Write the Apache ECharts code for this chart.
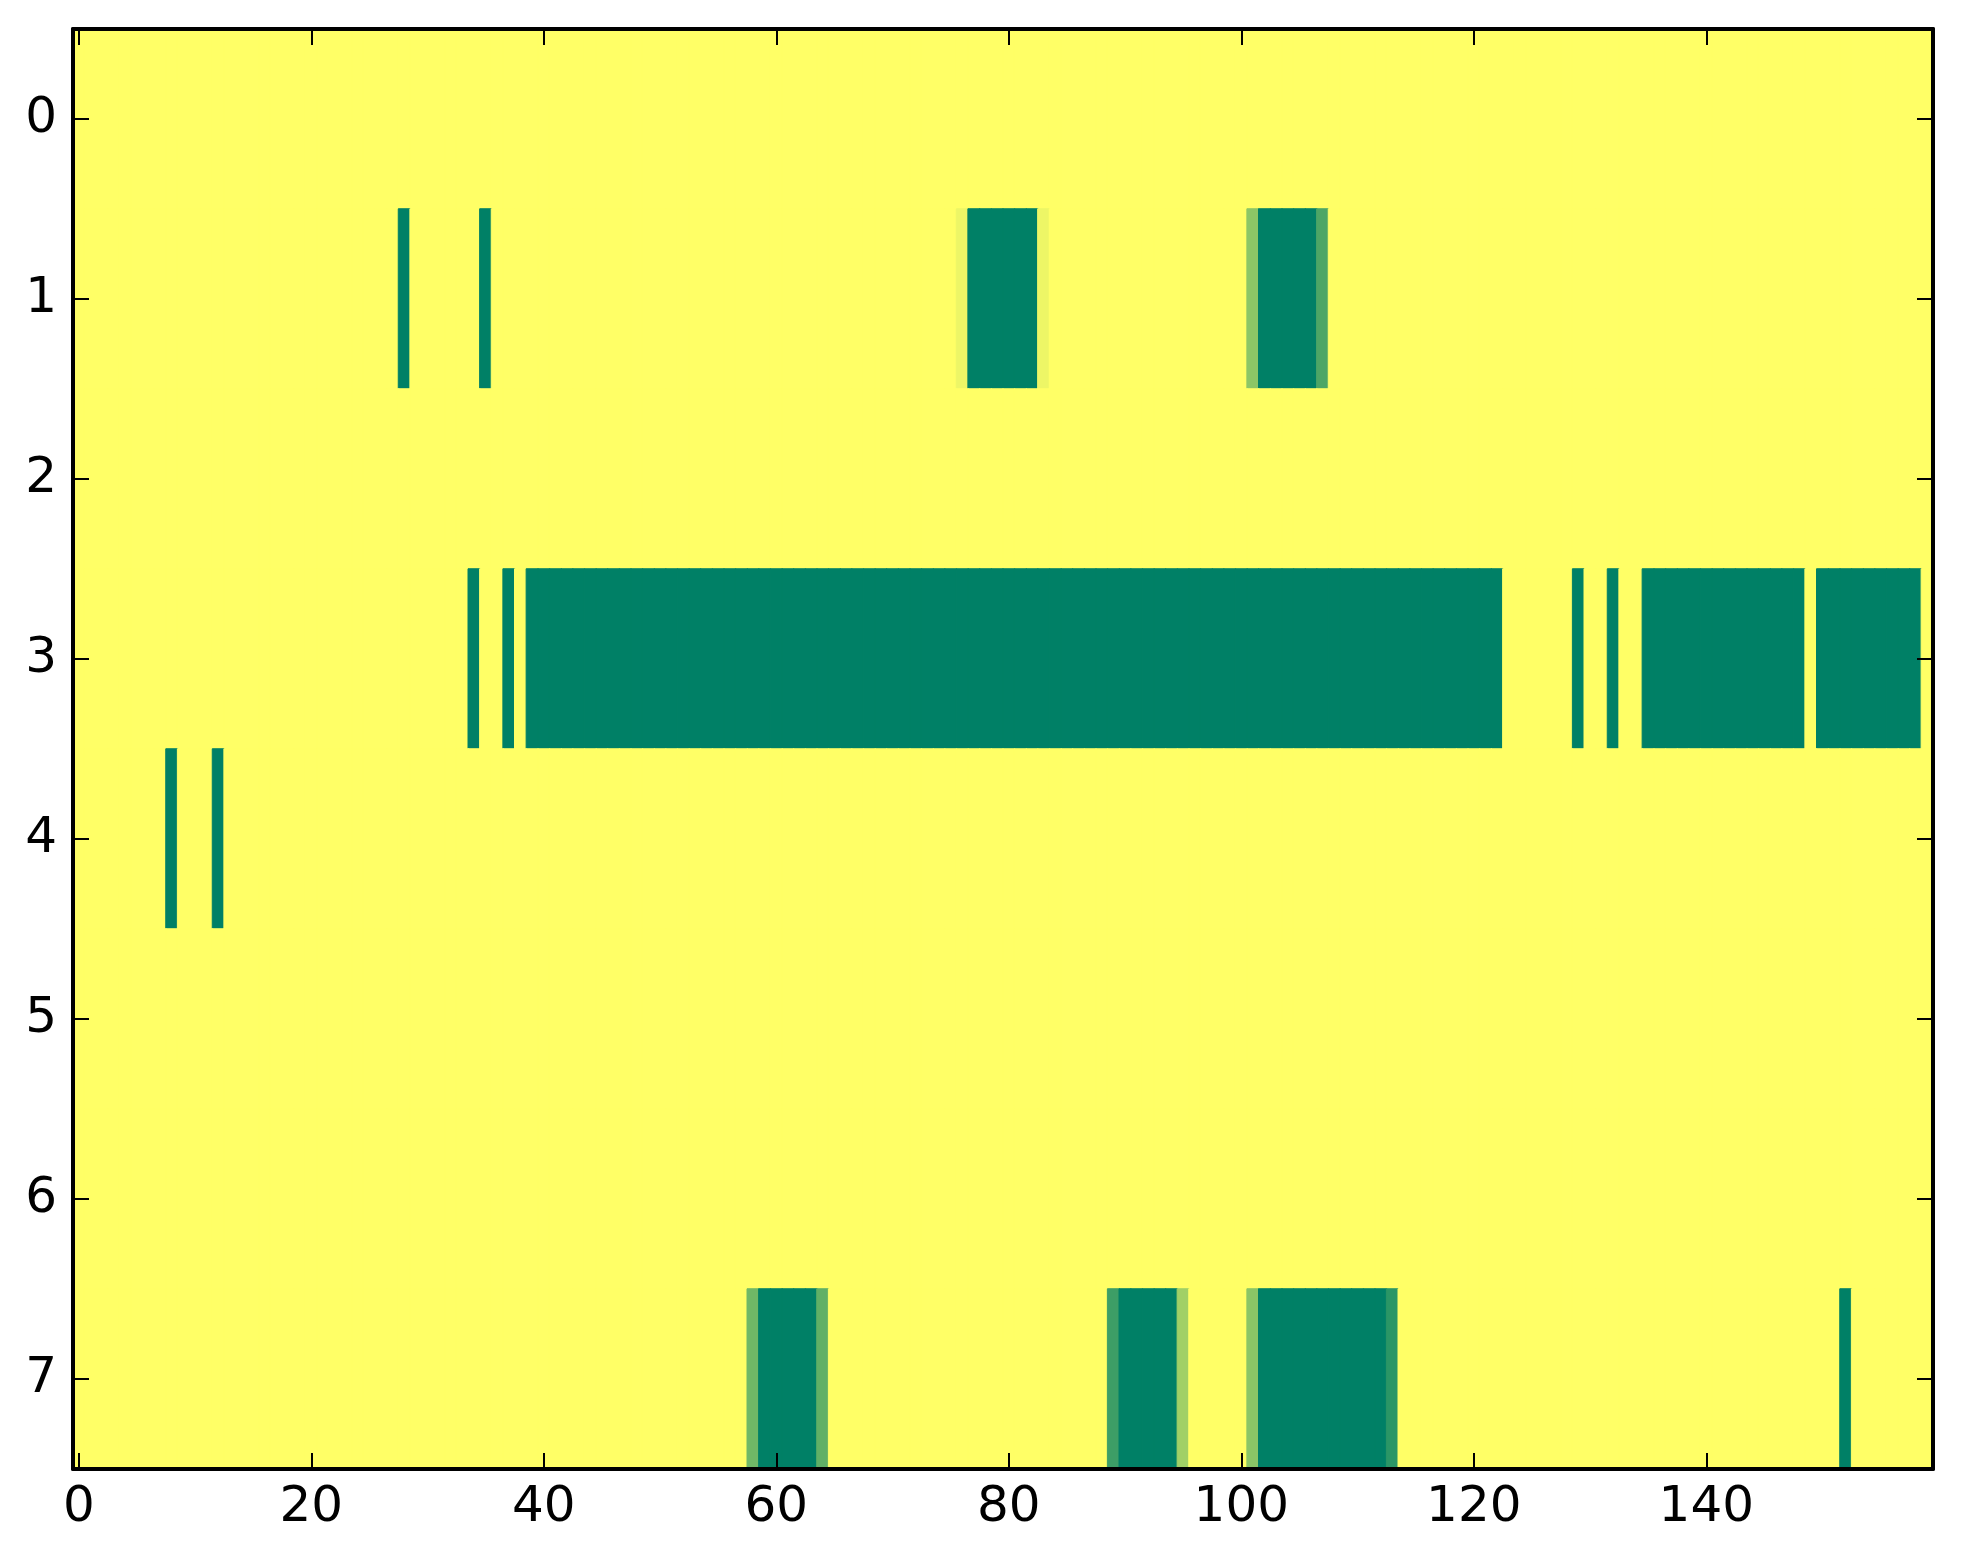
<!DOCTYPE html>
<html>
<head>
<meta charset="utf-8">
<script src="https://cdn.jsdelivr.net/npm/echarts@6/dist/echarts.min.js"></script>
<style>
html,body{margin:0;padding:0;background:#fff;}
#chart{width:1963px;height:1564px;}
</style>
</head>
<body>
<div id="chart"></div>
<script>
// number of columns (x categories) and row labels (y categories)
var nCols = 160;
var rowLabels = ['0','1','2','3','4','5','6','7'];
var xTickStep = 20;

// Non-zero cells per row: [startCol, endCol, value]
var row0 = [];
var row1 = [[28,28,1],[35,35,1],[76,76,0.07],[77,82,1],[83,83,0.07],[101,101,0.45],[102,106,1],[107,107,0.7]];
var row2 = [];
var row3 = [[34,34,1],[37,37,1],[39,122,1],[129,129,1],[132,132,1],[135,148,1],[150,158,1]];
var row4 = [[8,8,1],[12,12,1]];
var row5 = [];
var row6 = [];
var row7 = [[58,58,0.56],[59,63,1],[64,64,0.62],[89,89,0.76],[90,94,1],[95,95,0.37],[101,101,0.46],[102,112,1],[113,113,0.83],[152,152,1]];
var rows = [row0,row1,row2,row3,row4,row5,row6,row7];

// colormap end colours (value 0 -> yellow, value 1 -> green)
var cmapLow = [255, 255, 102];
var cmapHigh = [0, 128, 102];
function cmap(v) {
  var c = cmapLow.map(function (lo, i) { return Math.round(lo + (cmapHigh[i] - lo) * v); });
  return 'rgb(' + c.join(',') + ')';
}

var xCats = [];
for (var i = 0; i < nCols; i++) xCats.push(String(i));

var cells = [];
for (var r = 0; r < rows.length; r++) {
  var vals = [];
  for (var c = 0; c < nCols; c++) vals.push(0);
  rows[r].forEach(function (s) { for (var k = s[0]; k <= s[1]; k++) vals[k] = s[2]; });
  for (var c2 = 0; c2 < nCols; c2++) {
    cells.push({ value: [c2, r, vals[c2]], itemStyle: { borderColor: cmap(vals[c2]), borderWidth: 1 } });
  }
}

var font = 'DejaVu Sans';
var showX = function (idx) { return idx % xTickStep === 0; };
var axLine = { show: true, onZero: false, lineStyle: { color: '#000', width: 4 } };
var tick = { show: true, inside: true, length: 16, alignWithLabel: true, lineStyle: { color: '#000', width: 2 } };

var chart = echarts.init(document.getElementById('chart'));
chart.setOption({
  backgroundColor: '#ffffff',
  animation: false,
  grid: { left: 73, right: 30, top: 29, bottom: 95, containLabel: false },
  xAxis: [
    { type: 'category', data: xCats, position: 'bottom', boundaryGap: true, z: 10,
      axisLine: axLine,
      axisTick: Object.assign({}, tick, { interval: showX }),
      axisLabel: { interval: showX, margin: 14, fontFamily: font, fontSize: 50, color: '#000' },
      splitLine: { show: false } },
    { type: 'category', data: xCats, position: 'top', boundaryGap: true, z: 10,
      axisLine: axLine,
      axisTick: Object.assign({}, tick, { interval: showX }),
      axisLabel: { show: false }, splitLine: { show: false } }
  ],
  yAxis: [
    { type: 'category', data: rowLabels, inverse: true, position: 'left', boundaryGap: true, z: 10,
      axisLine: axLine,
      axisTick: Object.assign({}, tick, { interval: 0 }),
      axisLabel: { interval: 0, margin: 16, fontFamily: font, fontSize: 50, color: '#000' },
      splitLine: { show: false } },
    { type: 'category', data: rowLabels, inverse: true, position: 'right', boundaryGap: true, z: 10,
      axisLine: axLine,
      axisTick: Object.assign({}, tick, { interval: 0 }),
      axisLabel: { show: false }, splitLine: { show: false } }
  ],
  visualMap: {
    show: false, type: 'continuous', min: 0, max: 1, dimension: 2, seriesIndex: 0,
    inRange: { color: [cmap(0), cmap(1)] }
  },
  series: [{
    type: 'heatmap', xAxisIndex: 0, yAxisIndex: 0, data: cells, z: 2,
    emphasis: { disabled: true },
    progressive: 0
  }]
});
</script>
</body>
</html>
